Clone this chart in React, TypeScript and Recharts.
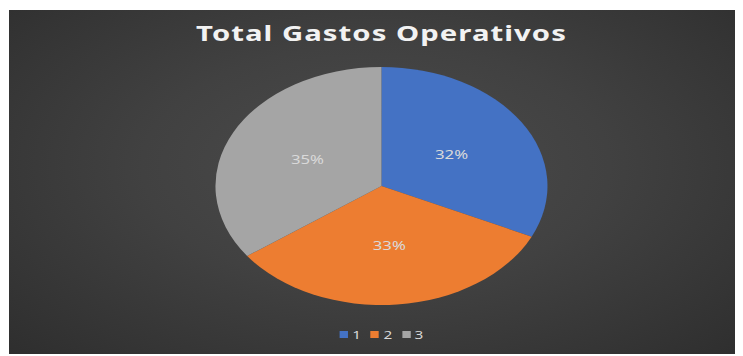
import { PieChart, Pie, Cell, Legend } from 'recharts';

// Total Gastos Operativos: share per group
const categories = ['1', '2', '3'];
const values = [32, 33, 35];
const colors = ['#4472C4', '#ED7D31', '#A5A5A5'];

const data = categories.map((name, i) => ({ name, value: values[i] }));

// the reference is stretched horizontally, so we draw narrow and scale X
const STRETCH = 1.395;
const OUTER_W = 734;
const OUTER_H = 346;
const INNER_W = OUTER_W / STRETCH;

const RAD = Math.PI / 180;

function renderLabel(props: any) {
  const { cx, cy, midAngle, outerRadius, percent } = props;
  const r = outerRadius * 0.5;
  const x = cx + r * Math.cos(-midAngle * RAD);
  const y = cy + r * Math.sin(-midAngle * RAD);
  return (
    <text
      x={x}
      y={y}
      fill="#d9d9d9"
      textAnchor="middle"
      dominantBaseline="central"
      fontSize={12}
      fontFamily="'Noto Sans', sans-serif"
    >
      {`${Math.round(percent * 100)}%`}
    </text>
  );
}

function renderLegend(props: any) {
  const { payload } = props;
  return (
    <div style={{ display: 'flex', justifyContent: 'center', paddingLeft: 15 }}>
      {payload.map((entry: any) => (
        <div key={entry.value} style={{ display: 'flex', alignItems: 'center', marginRight: 7 }}>
          <span style={{ width: 6, height: 7, background: entry.color, marginRight: 3 }} />
          <span style={{ color: '#d9d9d9', fontSize: 11, fontFamily: "'Noto Sans', sans-serif" }}>
            {entry.value}
          </span>
        </div>
      ))}
    </div>
  );
}

export default function App() {
  return (
    <div
      style={{
        position: 'relative',
        left: 1,
        top: 2,
        width: OUTER_W,
        height: OUTER_H,
        overflow: 'hidden',
        background: 'radial-gradient(ellipse at 50% 45%, #4c4c4c 0%, #414141 45%, #2e2e2e 100%)',
      }}
    >
      <div
        style={{
          position: 'absolute',
          left: 0,
          top: 0,
          width: INNER_W,
          height: OUTER_H,
          transform: `scaleX(${STRETCH})`,
          transformOrigin: '0 0',
        }}
      >
        <svg width={INNER_W} height={50} style={{ position: 'absolute', left: 0, top: 0 }}>
          <text
            x={267}
            y={31}
            textAnchor="middle"
            fill="#f2f2f2"
            fontSize={21}
            fontWeight={700}
            letterSpacing={0.75}
            fontFamily="'Noto Sans', sans-serif"
          >
            Total Gastos Operativos
          </text>
        </svg>
        <PieChart width={INNER_W} height={OUTER_H} margin={{ top: 0, right: 0, bottom: 0, left: 0 }}>
          <Pie
            data={data}
            dataKey="value"
            nameKey="name"
            cx={267}
            cy={176}
            outerRadius={119}
            startAngle={90}
            endAngle={-270}
            stroke="none"
            label={renderLabel}
            labelLine={false}
            isAnimationActive={false}
          >
            {data.map((d, i) => (
              <Cell key={d.name} fill={colors[i]} />
            ))}
          </Pie>
          <Legend
            content={renderLegend}
            wrapperStyle={{ position: 'absolute', top: 317, left: 0, width: INNER_W }}
          />
        </PieChart>
      </div>
    </div>
  );
}
